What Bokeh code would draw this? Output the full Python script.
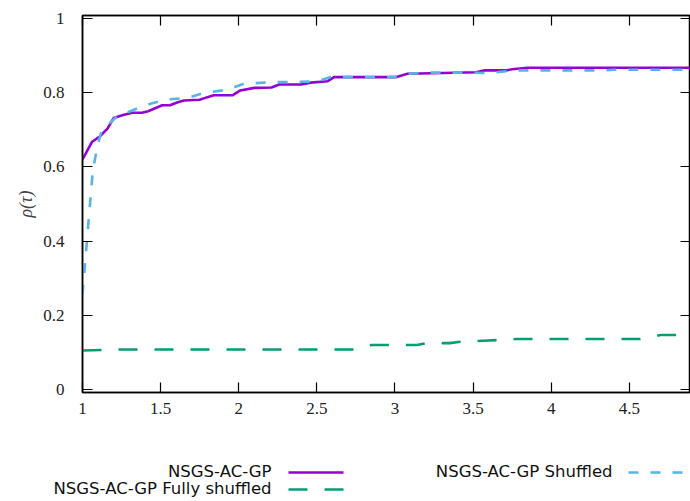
from bokeh.plotting import figure
from bokeh.models import LinearAxis, FixedTicker, Range1d
from bokeh.core.properties import value
from bokeh.embed import file_html
from bokeh.resources import INLINE

# ---- data ----
purple_x = [1.0, 1.06, 1.11, 1.16, 1.2, 1.26, 1.32, 1.38, 1.42, 1.51, 1.56, 1.61, 1.65, 1.75,
            1.8, 1.84, 1.96, 2.01, 2.1, 2.21, 2.26, 2.4, 2.46, 2.57, 2.61, 3.01, 3.08, 3.31,
            3.52, 3.57, 3.71, 3.75, 3.85, 5.0]
purple_y = [0.62, 0.667, 0.682, 0.703, 0.732, 0.74, 0.746, 0.746, 0.75, 0.766, 0.766, 0.774,
            0.779, 0.781, 0.788, 0.793, 0.793, 0.806, 0.813, 0.814, 0.822, 0.822, 0.827, 0.831,
            0.842, 0.842, 0.851, 0.853, 0.855, 0.86, 0.86, 0.863, 0.867, 0.867]

blue_x = [1.0, 1.05, 1.066, 1.094, 1.12, 1.158, 1.222, 1.318, 1.382, 1.435, 1.542, 1.67,
          1.777, 1.926, 2.033, 2.2, 2.5, 2.59, 3.0, 3.09, 3.21, 3.45, 3.59, 3.78, 4.34, 4.4, 5.0]
blue_y = [0.255, 0.51, 0.59, 0.653, 0.694, 0.712, 0.736, 0.752, 0.763, 0.77, 0.782, 0.786,
          0.799, 0.808, 0.824, 0.828, 0.83, 0.842, 0.842, 0.851, 0.854, 0.854, 0.853, 0.86,
          0.86, 0.862, 0.862]

green_x = [1.0, 1.25, 2.75, 2.85, 3.14, 3.2, 3.35, 3.42, 3.6, 3.78, 4.57, 4.7, 5.0]
green_y = [0.105, 0.108, 0.108, 0.12, 0.12, 0.125, 0.125, 0.129, 0.132, 0.136, 0.136, 0.147, 0.147]

x_ticks = [1, 1.5, 2, 2.5, 3, 3.5, 4, 4.5]
x_tick_labels = ["1", "1.5", "2", "2.5", "3", "3.5", "4", "4.5"]
y_ticks = [0, 0.2, 0.4, 0.6, 0.8, 1]
y_tick_labels = ["0", "0.2", "0.4", "0.6", "0.8", "1"]

series_names = ["NSGS-AC-GP", "NSGS-AC-GP Shuffled", "NSGS-AC-GP Fully shuffled"]
colors = ["#9400D3", "#56B4E9", "#009E73"]
dashes = ["solid", "10 12", "19 17"]

W = 690
TICK_FONT = "Liberation Serif"
LEG_FONT = "DejaVu Sans"

p = figure(width=W, height=432, output_backend="svg", toolbar_location=None,
           x_range=Range1d(1.0, 4.892), y_range=Range1d(-0.008, 1.008),
           min_border_left=82, min_border_right=0, min_border_top=15, min_border_bottom=40,
           x_axis_location=None, y_axis_location=None)
p.grid.visible = False
p.outline_line_color = "black"
p.outline_line_width = 1.5
p.background_fill_color = "white"
p.border_fill_color = "white"

def style_axis(ax, ticks, labels, show_labels):
    ax.ticker = FixedTicker(ticks=ticks)
    ax.major_label_overrides = {t: l for t, l in zip(ticks, labels)}
    ax.major_tick_in = 10
    ax.major_tick_out = 0
    ax.minor_tick_line_color = None
    ax.axis_line_color = "black"
    ax.axis_line_width = 1.5
    ax.major_tick_line_color = "black"
    ax.major_tick_line_width = 1.2
    ax.major_label_text_font = TICK_FONT
    ax.major_label_text_font_size = "17px"
    ax.major_label_text_color = "#222222"
    if not show_labels:
        ax.major_label_text_alpha = 0.0

xb = LinearAxis()
style_axis(xb, x_ticks, x_tick_labels, True)
xb.major_label_standoff = 10
p.add_layout(xb, "below")

yl = LinearAxis(axis_label="ρ(τ)")
style_axis(yl, y_ticks, y_tick_labels, True)
yl.major_label_standoff = 18
yl.axis_label_text_font = TICK_FONT
yl.axis_label_text_font_style = "italic"
yl.axis_label_text_font_size = "18px"
yl.axis_label_standoff = 4
p.add_layout(yl, "left")

xt = LinearAxis()
style_axis(xt, x_ticks, x_tick_labels, False)
xt.major_label_text_font_size = "0px"
p.add_layout(xt, "above")

yr = LinearAxis()
style_axis(yr, y_ticks, y_tick_labels, False)
yr.major_label_text_font_size = "0px"
p.add_layout(yr, "right")

series = [(purple_x, purple_y), (blue_x, blue_y), (green_x, green_y)]
for (xs, ys), c, d in zip(series, colors, dashes):
    p.line(xs, ys, line_color=c, line_width=2.6, line_dash=d, line_join="round")

# ---- legend (gnuplot style: label left of sample), separate root below the plot ----
LH = 69
lg = figure(width=W, height=LH, output_backend="svg", toolbar_location=None,
            x_range=Range1d(0, W), y_range=Range1d(LH, 0),
            min_border=0, min_border_left=0, min_border_right=0,
            min_border_top=0, min_border_bottom=0,
            x_axis_location=None, y_axis_location=None)
lg.grid.visible = False
lg.outline_line_color = None
lg.border_fill_color = "white"
lg.background_fill_color = "white"

leg_text_x = [271, 612, 271]
leg_text_y = [39, 39, 56]
leg_line_y = [40, 40, 57]
leg_x0 = [288, 628, 288]
leg_x1 = [343, 690, 343]

lg.text(x=leg_text_x, y=leg_text_y, text=series_names, text_align="right",
        text_baseline="middle", text_font=value(LEG_FONT), text_font_size="16.5px",
        text_color="#111111")
for i in range(3):
    lg.line([leg_x0[i], leg_x1[i]], [leg_line_y[i], leg_line_y[i]], line_color=colors[i],
            line_width=2.6, line_dash=dashes[i])

open("out.html", "w").write(file_html([p, lg], INLINE))
